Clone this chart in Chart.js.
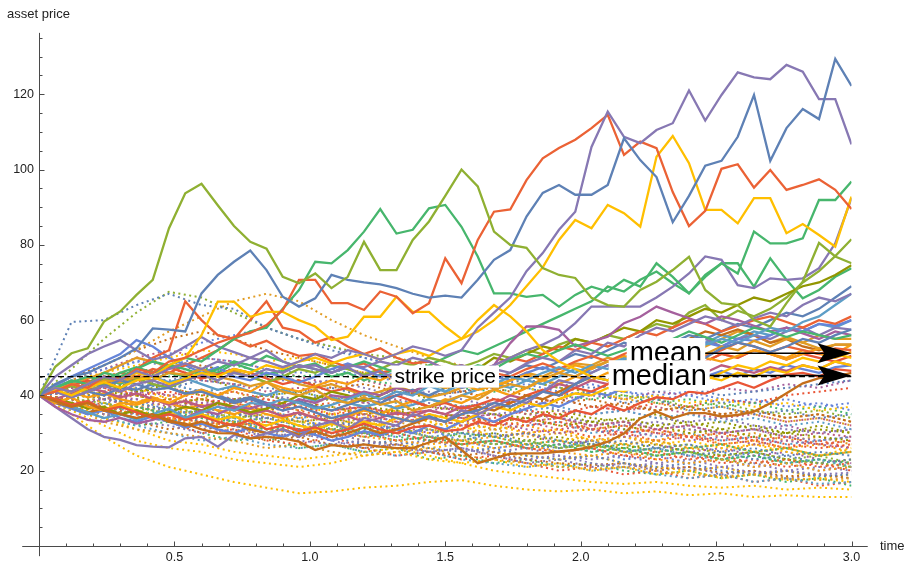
<!DOCTYPE html>
<html>
<head>
<meta charset="utf-8">
<script src="https://cdn.jsdelivr.net/npm/chart.js@4.4.0/dist/chart.umd.min.js"></script>
<style>
  html, body { margin: 0; padding: 0; background: #fff; }
  #wrap { width: 906px; height: 565px; }
</style>
</head>
<body>
<div id="wrap"><canvas id="paths" width="906" height="565"></canvas></div>
<script>
// time grid of the simulated paths (step 0.06)
const times = [0,0.06,0.12,0.18,0.24,0.3,0.36,0.42,0.48,0.54,0.6,0.66,0.72,0.78,0.84,0.9,0.96,1.02,1.08,1.14,1.2,1.26,1.32,1.38,1.44,1.5,1.56,1.62,1.68,1.74,1.8,1.86,1.92,1.98,2.04,2.1,2.16,2.22,2.28,2.34,2.4,2.46,2.52,2.58,2.64,2.7,2.76,2.82,2.88,2.94,3.0];
const timesCoarse = [0,0.12,0.24,0.36,0.48,0.6,0.72,0.84,0.96,1.08,1.2,1.32,1.44,1.56,1.68,1.8,1.92,2.04,2.16,2.28,2.4,2.52,2.64,2.76,2.88,3.0];

const strikePrice = 45;
const meanFinal = 51.2;
const medianFinal = 45.3;

// paths ending above the strike (solid)
const pathA = [40,47.6,51.2,52.5,59.6,62.3,66.7,70.7,84.4,93.7,96.2,90.5,85,80.8,79,71.5,69.8,72.4,68.5,71.5,80.8,73.3,73.3,81.3,86.2,93,100,95.5,83.5,80,79.2,73.8,72,71.2,65.9,64,63.6,68,70.2,73.3,76.8,68,64.5,64,60,58.3,64.5,70.2,80.5,76.9,75.1];
const pathB = [40,43,45,46,48,50,52.5,57.8,57.5,57,67.1,72,75.5,78.5,73.3,66.2,63.6,65.8,72,70.7,70,69.5,68.5,67,66,66.5,66,70.7,76,78.6,87.5,93.8,95.9,93.3,93.3,95.9,108.3,102.5,98,86,93,101,102.3,108.7,119.8,102.3,111,116.1,113.4,129.4,122.2];
const pathC = [40,42,41,43,45,44,46.5,45,47,48.5,47,49,48,50,49,47.5,49,51,50,52,51,49.5,51,53,52,50.5,52,58,62,66,73,77.8,84,88.8,106,115.4,108.7,107,110.5,112.3,121,113,119.8,125.8,124.5,124,127.8,126,118.7,118.7,106.7];
const pathD = [40,41,43,42,45,44,47,46,49,50,52,54,55.5,56.6,58.7,62.7,70.7,70.7,64.5,64.5,62.7,67.6,66.2,61.8,64.5,76.4,69.8,81.3,88.8,89.4,97.2,103,105.7,107.9,111,114.5,103.9,107.4,105.7,94,85,89,100.2,101.4,95.2,99.9,94.6,95.9,97.4,94.6,89.5];
const pathE = [40,41.5,40,42,43.5,42,44,45,43,44.5,46,45,47,46,48,47,49,50,48.5,50,51,49.5,51,52,50.5,53,55,57,60,64,69,74,81.3,86.6,84.4,90.6,88.4,84.8,103.4,108.9,101.7,89.3,89.3,85.7,92.4,92.4,83.1,85.5,82.6,79.5,92.8];
const pathF = [40,42,41,43,45,44,46,45,48,50,56,64.9,64.9,60.9,62.2,62.2,60,58.3,54.7,55.6,60.9,60.9,66.2,62.2,62.2,58.3,55,60,64,61,57,52,49,47,45,44,46,44,42,43,45,44,46,48,47,49,48,50,49,51,50];
const pathG = [40,42,44,43,46,45,47,49,48,50,49,52,55,57,58,63,68,75.5,75.1,78.6,83.5,89.5,83,84,89.7,90.6,84.8,76.9,67.1,67.1,66.2,66.7,63.6,66.7,68.9,67.6,70.7,68.9,75.1,71.5,67.1,72,75.1,72.4,83.5,80.4,80.4,81.7,91.9,91.9,96.8];
const pathI = [40,41,39.5,41,42.5,41,43,44,42.5,44,45.5,44,46,45,47,46,48,47,46,48,47.5,49,48,50,49,47,48,46.5,48,50,52,53.5,55.6,59.2,63.6,63.6,63.6,63.6,66,68.9,72.4,76.9,76,69.3,68.5,71.1,70.7,71.1,73.8,80.4,92.4];
const pathB1 = [40,38.5,37,38,36,35,34,35,33,32.5,31,30,29.9,28.6,29,28.6,27.7,25.5,26.8,26.4,27,26.4,26,26,27.5,29,25.5,22,23.3,24.5,24.6,24.6,25.1,25.5,26.4,27.7,29.9,33.9,35.7,34,35.3,35.3,34.4,34.8,35.7,37.9,40.6,43.2,44.6,45,46];
const pathB2 = [40,39,37.5,38.5,36,37,35.5,34,35,33.5,34.5,33,32,33.5,31,32,30.5,31.5,30,31,32.5,31,30,31.5,32,30.5,31,33,32,34,33,35,34,36,35,37.5,36,38,39.5,39,41,40.5,42,43.5,42,44,45.5,46,45,47,46.5];
const pathB3 = [40,42,41,43,42.5,44,43,41.5,42,40.5,41,39.5,38,39,37.5,36,37,35.5,34,35,36.5,35,34,33,34.5,33,35,36,38,37,39,41,40,43,45,44,46.5,48,47,49.5,51,50,52.5,54,53,51.5,53,55,54,56,57.5];
const pathB4 = [40,45,48,51,53,54.7,52,49.5,50.5,53,55.5,53,51.5,50,52,49,47.5,48,46,47.5,45,46.5,44,45.5,43,44,42.5,45,47,46,48.5,50,49,52,51,54,53,56,58,57,59,61,60,58.5,60.5,62,61,64,66,65,67];
const pathB5 = [40,41.5,43,42,44,43.5,45,44,46,45.5,47,45,44,42.5,43.5,41,40,41.5,39,38,39.5,37.5,38.5,36,37,38.5,40,39,41.5,43,42,44.5,46,45,47.5,49,48,50.5,49,51,52.5,51,53,52,54.5,53,55,54,52.5,53.5,53.5];
const pathB6 = [40,38.5,37,35.5,34,35,33.5,35,36.5,34,35.5,37,36,38,37.5,39,38,36.5,37.5,39,40.5,39,41,40,42.5,41,43,44.5,43,45,44,46,47.5,46,48,47,49.5,51,50,52,51,53.5,55,54,56,58,57,59.5,61,64,67];
const pathB7 = [40,42,43.5,45,44,46,47.5,46,48,47,45.5,47,49,48,50.5,49,47.5,48.5,46,47.5,49,47.5,46,47,45,44,46,48,47,49.5,51,50,52,53.5,52,50.5,52,54,53,55,57,55.5,54,56,58,57,55.5,57,56,55,56];
const pathB8 = [40,37,35,33.5,33,34,32.5,33.5,35,34,36,35,37,36.5,38,37,39,38,40,39.5,41,40,42,41,43,42.5,44,46,48,53.9,58.3,58.3,57.4,53,54.3,55.6,59.2,60.9,63.6,62,60.5,59,61,60,58.5,57,58,56.5,55,57,56];
const pathB9 = [40,42,41,43.5,45,44,47,50,52,65,60,56,55,53,54.5,52,50.5,51,49,47.5,48.5,46,47,45.5,44,45,43,44.5,46,45,47,48.5,47,49,50.5,49,51,52.5,51,53,52,50.5,52,54,53,51.5,53,52,51,52.5,52];
const pathB10 = [40,41,43,42,44,46,45,47,46,48,50,52,55,60,65,58,57,54,55.5,53,51,52.5,50,48.5,49,47,48,46.5,48,50,49,51,53,52,54,53,55,57,56,58,60,59,57,58.5,60,61,59.5,58,60,59,61];
const pathB11 = [40,38,39.5,37,36,38,37.5,39,38,40,41.5,40,42,41,43.5,42,41,42.5,44,43,45,44,46,45,43.5,42,43,41.5,42.5,44,45.5,44,46,48,47,49,50.5,49,48,50,51.5,50,49,50.5,52,51,49.5,51,52.5,51,53.5];
const pathB12 = [40,42.5,45,47,49,51,54.7,53,50,48,46,47.5,45,44,46,45,43.5,45,47,48.5,47,45,46,44.5,43,44,42,43,45,44,46,47.5,46,45,47,49,48,50,51.5,53,52,54,53,55,54.5,56,58,57,59,58.5,60];
const pathB13 = [40,37,34,31,29,28.2,26.8,26.4,26.2,28.6,29,26.4,29.5,28.6,30,31,29,32,33,31,34,33,32,35,34,33,36,35,37,39,38,41,44,43,46,48,47,50,53,52,54,55,53,55,56,55,57,58,56,58,57.5];
const pathB14 = [40,39,38,36.5,37,35,36,34.5,35.5,37,36,38,37,35.5,36.5,38,40,39,41,40,38.5,40,42,41,43,42,44,47,50,49,51,53,52,55,54,56,58,57,60,59,61,63,62,64,66,65,67,69,70,72,74.6];
const pathB15 = [40,41,42.5,41,43,42,44.5,43,42,44,45.5,44,46,45,43.5,45,47,46,48,47,45.5,47,49,48,50,49,47.5,49,51,50,52,51,53.5,55,54,56,55,57,59,58,62,64,60,62.5,61,63,66,70,73,77,81.5];
const pathB16 = [40,41,39.5,41,40,42,41.5,43,42,40.5,41.5,40,38.5,39.5,38,37,38.5,37,36,37.5,39,38,40,41.5,40,42,43.5,45,44,46,48,47,49,51,50,52,54,53,55,54,56,55,57,59,58,60,62,61,63,66,69];
const pathB17 = [40,38,37,35.5,36.5,35,34,35,33.5,32,33,31.5,32.5,31,30,31,29.5,30.5,29,30,31.5,30,31,32.5,34,33,35,37,36,38,40,39,41,43,45,44,47,49,51,53,55,57,56,57.5,56,54,55,53,52,53.5,53.5];
const pathB18 = [40,39,37,38,36,37.5,36,34.5,35.5,34,35,33.5,34.5,33,32,33.5,32,31,32.5,31.5,33,32,34,33,35,34,33,35,37,36,38,37,39,40.5,40,42,41,43,42,44,43,45,44,46,45,47,46,48,47,49,48];
const pathB19 = [40,41,42.5,44,43,45,44,46,47.5,46,44.5,45.5,47,46,44.5,43,44,42.5,41,42,40.5,39,40,38.5,37,38,36.5,37.5,39,38,40,41.5,40,42,41,43,45,44,46,48,50,49,51,50,52,51,49.5,51,50,49,50.5];
const pathB20 = [40,42,44,43,45,44.5,46,45,43.5,44.5,43,41.5,42.5,41,40,41.5,40,38.5,39.5,38,37,38,36.5,37.5,39,38,40,41.5,43,42,44,43,45,47,46,48,50,52,51,53,55,54,56,55,57,56,58,57,59,58,60];
const pathB21 = [40,39,40.5,42,41,39.5,40.5,39,37.5,38.5,37,38,36.5,35,36,34.5,35.5,34,33,34.5,33,34,35.5,34.5,36,35,37,36,38,40,39,41,43,42,44,43,45,44,46,45,47,46,48,47,46,47.5,46.5,48,47,49,48];
const pathB22 = [40,41,43,44.5,46,48,50,49,47.5,48.5,47,45.5,46.5,45,43.5,44.5,43,42,43,41.5,40,41,42.5,41,39.5,40.5,42,43,42,44,46,45,47,48.5,48,50,49,51,53,52,54,53,55,57,56,54,55.5,54,56,55,55];
const pathB23 = [40,42,41,43,44.5,43,45,44,46,45,47,46,48.5,47,45.5,46.5,48,47,45,46,44,45.5,47,46,48,50,52,51,53,55,57,59,61,63,65,68.9,67.6,70.7,72.9,69.8,67.1,71.5,75.1,75.1,68.9,76.4,70.7,65.8,68,71.5,73.8];
const pathB24 = [40,38,36.5,35,36,34,33,34.5,33,31.5,32.5,31,30,31.5,30,29,30.5,29.5,28,29,30.5,29.5,31,30,32,31,33,34.5,33,35,36.5,38,37,39,41,40,42,43.5,42,44,43,45,46.5,45,47,46,48,47,46,47.5,48];
const pathB25 = [40,42,41,39.5,40.5,39,38,39.5,38,36.5,37.5,36,35,36.5,35,34,35.5,34,33,34.5,36,35,37,38.5,37,39,38,40,41.5,40,42,44,43,45,44,46,45,47,49,48,50,49,51,50,52,51,50,52,51,50,51.5];

// paths ending below the strike (dotted), read on the coarse grid
const dot01 = [40,59.5,60,64,67,64,63,58,55,52,50,48,45,47,44,42,40,41,38,39,36,37,35,36,34,35];
const dot02 = [40,47,55,62,67.5,66,62,58,55,53,51,50,48,47,45,44,42,41,40,39,37,38,36,35,36,34];
const dot03 = [40,44,48,52,57,61,65,67,65,60,56,53,50,48,46,44,42,41,39,38,36,37,35,33,34,32];
const dot04 = [40,35,29,24,21,19,17,15.5,14,14.5,15.5,16,17,17.5,16,15,14.5,15,14,14.5,13.5,14,13,13.5,13,13];
const dot05 = [40,36,32,28,26,25,23,22,21,22,24,25,23,22,20,19,18,17,16.5,17,16,15.5,16,15,15.5,15];
const dot06 = [40,37,33,31,30,29,28,26,27,25,24,25,26,24,23,22,21,20.5,21,20,19,18.5,19,18,17.5,18];
const dot07 = [40,38,35,33,32,30,31,29,28,27,28,26,25,26,24,23,24,22,21,22,20,21,19.5,20,19,19.5];
const dot08 = [40,39,37,35,34,33,32,33,31,30,29,30,28,27,28,26,25,26,24,25,23,24,22,23,21,22];
const dot09 = [40,41,39,38,36,37,35,34,35,33,32,31,32,30,29,30,28,27,28,26,27,25,26,24,25,24];
const dot10 = [40,38,36,37,35,34,33,31,32,30,31,29,28,30,29,27,28,26,27,25,26,27,25,26,24,25];
const dot11 = [40,42,40,39,37,38,36,37,35,34,35,33,34,32,33,31,30,31,29,30,28,29,27,28,27,26];
const dot12 = [40,39,41,40,38,39,37,36,38,37,35,36,34,35,33,34,32,33,31,32,30,31,29,30,29,28];
const dot13 = [40,43,44,42,43,41,42,40,41,39,40,38,39,37,38,36,37,35,36,34,35,33,34,32,33,31];
const dot14 = [40,42,45,47,46,48,46,45,44,42,43,41,40,41,39,38,39,37,38,36,37,35,36,34,35,33];
const dot15 = [40,38,34,31,28,27,25,24,23,24,25,26,24,22,23,21,22,20,21,19,20,18,19,17.5,18,17];
const dot16 = [40,44,47,49,48,50,49,47,46,47,45,44,45,43,42,43,41,40,41,39,40,38,39,37,38,36];
const dot17 = [40,43,41,44,42,40,41,39,37,38,36,35,36,34,33,34,32,31,32,30,29,30,28,29,27,28];
const dot18 = [40,41,43,45,44,46,47,45,43,44,42,40,41,39,37,38,36,35,36,34,33,34,32,31,30,31];
const dot19 = [40,37,35,36,34,32,33,31,30,31,29,28,27,28,26,27,25,24,25,23,22,23,21,22,20,21];
const dot20 = [40,39,38,36,37,35,33,34,32,31,30,31,29,28,27,28,26,27,25,24,25,23,22,23,22,21];
const dot21 = [40,43,45,44,46,44,43,41,42,40,38,39,37,36,37,35,34,32,33,31,32,30,31,29,30,29];
const dot22 = [40,38,36,34,35,33,32,30,31,29,27,28,26,25,26,24,23,24,22,21,22,20,19,20,18.5,19];
const dot23 = [40,44,46,48,50,52,51,49,50,48,46,47,45,43,44,42,40,41,39,40,38,39,37,38,36,37];
const dot24 = [40,38,35,33,31,32,30,28,29,27,26,27,25,24,25,23,22,21.5,22,20.5,21,19.5,20,18.5,19,18];
const dot25 = [40,41,42,40,41,39,38,39,37,36,37,35,34,35,33,32,33,31,30,31,29,28,29,27,26,27];
const dot26 = [40,42,44,46,45,47,48,46,45,46,44,43,44,42,41,42,40,39,40,38,39,37,38,36,37,35];
const dot27 = [40,37,34,32,30,28,29,27,26,27,25,24,25,23,22,21,22,20,21,19,18,19,17,18,16.5,17];
const dot28 = [40,39,36,35,33,34,32,30,29,30,28,27,28,26,25,26,24,23,24,22,23,21,22,20,21,20];
const dot29 = [40,42,43,41,42,40,39,40,38,39,37,36,37,36,35,34,35,33,34,32,33,31,32,30,31,30];
const dot30 = [40,39,37,38,36,35,36,34,33,34,32,33,31,30,31,29,30,28,27,28,26,27,25,26,24,25];
const dot31 = [40,42,41,43,42,44,43,42,41,42,40,41,40,41,43,44,43,42,43,41,42,40,41,42,43,44];
const dot32 = [40,38,39,37,36,37,35,34,35,33,34,35,36,37,38,37,39,40,39,41,40,42,41,43,42,44];
const dot33 = [40,41,39,38,39,37,38,36,37,35,36,34,35,33,34,36,35,37,36,38,37,39,38,40,41,42];
const dot34 = [40,38,36,35,33,34,32,31,30,31,29,30,28,27,28,26,27,25,26,24,25,23,24,22,23,22];
const dot35 = [40,41,38,36,34,33,31,30,29,30,28,27,26,27,25,24,23,24,22,21,20,21,19,20,18,19];
const dot36 = [40,43,42,44,43,41,42,40,39,40,38,37,38,36,35,36,34,33,32,33,31,30,31,29,28,29];
const dot37 = [40,36,38,35,33,35,34,31,32,30,33,31,29,30,27,28,26,28,25,26,24,23,25,22,23,21];
const dot38 = [40,43,40,42,39,41,38,36,38,35,34,36,33,31,32,30,31,28,29,27,28,26,27,25,24,26];
const dot39 = [40,37,39,41,38,36,37,34,35,33,31,32,30,31,29,30,27,28,29,27,25,26,24,25,23,22];
const dot40 = [40,42,44,41,43,45,42,40,41,39,40,42,39,37,38,35,36,34,33,35,32,33,31,30,32,30];
const dot41 = [40,38,35,36,33,30,31,28,27,29,26,24,25,23,24,22,20,21,19,20,18,19,17,18,16,17];
const dot42 = [40,41,38,39,36,35,33,34,32,33,30,29,31,28,26,27,25,26,23,24,22,23,21,22,20,21];
const dot43 = [40,39,41,38,40,37,38,36,34,35,37,34,32,33,31,32,30,31,29,28,30,27,28,26,27,25];
const dot44 = [40,44,47,50,52,50,49,47,45,43,44,42,40,41,39,38,39,37,36,37,35,34,35,33,34,32];
const dot45 = [40,36,34,32,33,30,28,29,26,27,25,26,23,24,22,23,21,22,20,19,20,18,19,17,18,16];
const dot46 = [40,39,36,37,35,36,33,32,34,31,30,32,29,28,30,27,26,28,25,26,24,25,23,24,22,23];
const dot47 = [40,42,39,40,38,39,41,38,36,37,35,36,33,34,32,33,34,31,32,30,31,29,30,28,29,27];
const dot48 = [40,38,40,37,35,36,34,35,33,31,32,30,31,29,27,28,26,27,25,26,27,24,25,23,24,22];
const dot49 = [40,41,43,40,38,39,37,38,36,34,35,33,34,32,33,30,31,29,30,28,29,27,28,26,28,26];
const dot50 = [40,37,35,33,34,31,32,29,30,28,26,27,25,26,24,22,23,21,22,20,21,19,20,18,19,18];
const dot51 = [40,45,48,52,55,57,55,52,50,48,46,44,43,41,42,40,38,39,37,36,37,35,36,34,35,33];
const dot52 = [40,39,37,38,36,37,35,36,34,35,33,34,32,33,31,32,33,30,31,29,30,28,29,27,28,29];
const dot53 = [40,41,39,37,38,36,34,35,33,32,34,31,30,32,29,30,28,29,27,28,26,27,25,26,24,25];
const dot54 = [40,38,39,41,40,38,39,37,38,36,37,35,36,34,35,33,34,32,33,31,32,30,31,32,30,31];
const dot55 = [40,42,40,38,39,37,35,36,33,34,32,30,31,29,30,28,29,27,26,27,25,24,25,23,22,23];
const dot56 = [40,37,38,36,34,35,32,33,31,29,30,28,29,27,28,26,25,26,24,23,24,22,23,21,22,20];
const dot57 = [40,43,46,49,51,54,56,58,55,53,50,48,46,47,45,44,42,43,41,40,41,39,38,39,37,38];
const dot58 = [40,38,36,37,35,33,34,32,31,33,30,31,29,28,29,27,28,26,27,25,26,25,27,26,24,25];
const dot59 = [40,41,44,42,40,41,39,40,38,36,37,35,36,34,35,33,31,32,30,31,29,30,28,29,27,28];
const dot60 = [40,39,37,35,36,34,35,33,31,32,30,28,29,27,28,26,27,25,26,24,25,23,24,22,23,21];

const palette = ['#5E81B5','#E19C24','#8FB032','#EB6235','#8778B3','#C56E1A','#5D9EC7','#FFBF00','#A5609D','#929600','#E95536','#6685D9','#F89F13','#BC5B80','#47B66D'];

const solidPaths = [pathA, pathB, pathC, pathD, pathE, pathF, pathG, pathI,
  pathB1, pathB2, pathB3, pathB4, pathB5, pathB6, pathB7, pathB8, pathB9, pathB10, pathB11, pathB12,
  pathB13, pathB14, pathB15, pathB16, pathB17, pathB18, pathB19, pathB20, pathB21, pathB22, pathB23, pathB24, pathB25];
const solidColors = ['#8FB032','#5E81B5','#8778B3','#EB6235','#FFBF00','#FFBF00','#47B66D','#8778B3',
  '#C56E1A','#E95536','#5E81B5','#8778B3','#E19C24','#5D9EC7','#47B66D','#A5609D','#EB6235','#EB6235','#F89F13','#6685D9',
  '#8778B3','#929600','#8FB032','#5E81B5','#C56E1A','#FFBF00','#E95536','#5D9EC7','#BC5B80','#E19C24','#47B66D','#6685D9','#F89F13'];
const dottedPaths = [dot01, dot02, dot03, dot04, dot05, dot06, dot07, dot08, dot09, dot10, dot11, dot12,
  dot13, dot14, dot15, dot16, dot17, dot18, dot19, dot20, dot21, dot22, dot23, dot24,
  dot25, dot26, dot27, dot28, dot29, dot30, dot31, dot32, dot33, dot34, dot35, dot36,
  dot37, dot38, dot39, dot40, dot41, dot42, dot43, dot44, dot45, dot46, dot47, dot48,
  dot49, dot50, dot51, dot52, dot53, dot54, dot55, dot56, dot57, dot58, dot59, dot60];
const dottedColors = ['#5E81B5','#8FB032','#E19C24','#FFBF00','#FFBF00','#E19C24','#8778B3','#EB6235','#5E81B5','#47B66D','#A5609D','#929600',
  '#5D9EC7','#C56E1A','#FFBF00','#6685D9','#EB6235','#8778B3','#F89F13','#8FB032','#BC5B80','#5E81B5','#FFBF00','#C56E1A',
  '#E95536','#47B66D','#5D9EC7','#8778B3','#929600','#E19C24','#5E81B5','#A5609D','#E95536','#47B66D','#FFBF00','#8778B3'];
// remaining dotted paths take the palette in turn
for (let k = dottedColors.length; k < dottedPaths.length; k++) dottedColors.push(palette[k % palette.length]);

const fontFamily = '"Liberation Sans", Arial, Helvetica, sans-serif';

const datasets = [];
datasets.push({
  data: [{ x: 0, y: strikePrice }, { x: 3, y: strikePrice }],
  borderColor: '#000', borderWidth: 1.2, borderDash: [6, 3.5], order: 0
});
solidPaths.forEach((p, k) => {
  datasets.push({
    data: p.map((v, i) => ({ x: times[i], y: v })),
    borderColor: solidColors[k], borderWidth: 2.3, order: 1
  });
});
dottedPaths.forEach((p, k) => {
  datasets.push({
    data: p.map((v, i) => ({ x: timesCoarse[i], y: v })),
    borderColor: dottedColors[k], borderWidth: 2, borderDash: [2, 3.5], borderCapStyle: 'butt', order: 2
  });
});

function boxedText(ctx, text, cx, cy, size) {
  ctx.font = size + 'px ' + fontFamily;
  const w = ctx.measureText(text).width;
  const h = size * 1.05;
  ctx.fillStyle = '#fff';
  ctx.fillRect(cx - w / 2 - 3, cy - h / 2, w + 6, h);
  ctx.fillStyle = '#000';
  ctx.textAlign = 'center';
  ctx.textBaseline = 'middle';
  ctx.fillText(text, cx, cy + size * 0.04);
  return cx + w / 2 + 3;
}

function arrowTo(ctx, xs, xe, yy) {
  ctx.strokeStyle = '#000';
  ctx.lineWidth = 1.5;
  ctx.beginPath();
  ctx.moveTo(xs, yy);
  ctx.lineTo(xe - 20, yy);
  ctx.stroke();
  ctx.fillStyle = '#000';
  ctx.beginPath();
  ctx.moveTo(xe, yy);
  ctx.lineTo(xe - 34, yy - 10);
  ctx.lineTo(xe - 27, yy);
  ctx.lineTo(xe - 34, yy + 10);
  ctx.closePath();
  ctx.fill();
}

const overlay = {
  id: 'overlay',
  afterDatasetsDraw(chart) {
    const { ctx, scales: { x, y } } = chart;
    const x0 = Math.round(x.getPixelForValue(0)) + 0.5;
    const y0 = Math.round(y.getPixelForValue(0)) + 0.5;
    ctx.save();

    // labels on the plot
    boxedText(ctx, 'strike price', x.getPixelForValue(1.5), y.getPixelForValue(strikePrice), 21);
    const yMean = y.getPixelForValue(meanFinal);
    const yMed = y.getPixelForValue(medianFinal);
    const endMean = boxedText(ctx, 'mean', x.getPixelForValue(2.315), yMean, 29);
    const endMed = boxedText(ctx, 'median', x.getPixelForValue(2.29), yMed, 29);
    arrowTo(ctx, endMean, x.getPixelForValue(3), yMean);
    arrowTo(ctx, endMed, x.getPixelForValue(3), yMed);

    // axes through the origin
    ctx.strokeStyle = '#4a4a4a';
    ctx.lineWidth = 1;
    ctx.beginPath();
    ctx.moveTo(x.getPixelForValue(-0.062), y0);
    ctx.lineTo(x.getPixelForValue(3.06), y0);
    ctx.moveTo(x0, y.getPixelForValue(-2.7));
    ctx.lineTo(x0, y.getPixelForValue(136.3));
    for (let v = 5; v <= 135; v += 5) {
      const py = Math.round(y.getPixelForValue(v)) + 0.5;
      ctx.moveTo(x0, py);
      ctx.lineTo(x0 + (v % 20 === 0 ? 5 : 3), py);
    }
    for (let k = 1; k <= 30; k++) {
      const px = Math.round(x.getPixelForValue(k / 10)) + 0.5;
      ctx.moveTo(px, y0);
      ctx.lineTo(px, y0 - (k % 5 === 0 ? 5 : 3));
    }
    ctx.stroke();

    ctx.fillStyle = '#222';
    ctx.font = '13px ' + fontFamily;
    ctx.textAlign = 'left';
    ctx.textBaseline = 'middle';
    ctx.fillText('asset price', 7, 14);
    ctx.fillText('time', 880, y0);
    ctx.restore();
  }
};

new Chart(document.getElementById('paths'), {
  type: 'line',
  data: { datasets },
  options: {
    responsive: false,
    animation: false,
    devicePixelRatio: 1,
    layout: { padding: { top: 34, right: 54.5, left: 0, bottom: 0 } },
    elements: { point: { radius: 0 }, line: { tension: 0 } },
    plugins: { legend: { display: false }, tooltip: { enabled: false } },
    scales: {
      x: {
        type: 'linear', min: 0, max: 3,
        grid: { display: false, drawTicks: false, tickLength: 0 }, border: { display: false },
        ticks: {
          stepSize: 0.5, maxRotation: 0, autoSkip: false, padding: 4,
          color: '#222', font: { family: fontFamily, size: 12.5 },
          callback: v => (v === 0 ? '' : v.toFixed(1))
        },
        afterFit: s => { s.height = 19; }
      },
      y: {
        type: 'linear', min: 0, max: 136,
        grid: { display: false, drawTicks: false, tickLength: 0 }, border: { display: false },
        ticks: {
          stepSize: 20, includeBounds: false, padding: 5,
          color: '#222', font: { family: fontFamily, size: 12.5 },
          callback: v => (v === 0 || v % 20 !== 0 ? '' : v)
        },
        afterFit: s => { s.width = 39; }
      }
    }
  },
  plugins: [overlay]
});
</script>
</body>
</html>
